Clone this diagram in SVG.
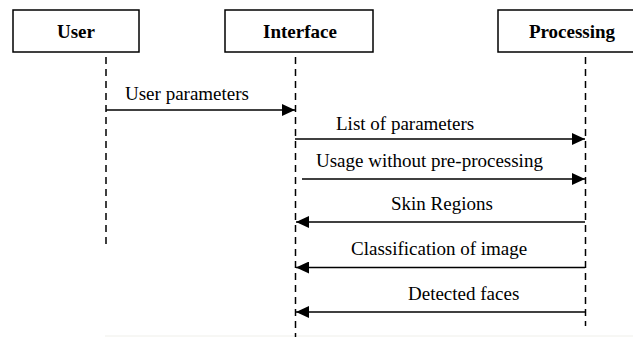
<svg xmlns="http://www.w3.org/2000/svg" width="633" height="337" viewBox="0 0 633 337">
<style>
.box{fill:#fff;stroke:#000;stroke-width:1.5}
.title{font-family:"Liberation Serif","Times New Roman",serif;font-weight:bold;font-size:19px;fill:#000;text-anchor:middle}
.lbl{font-family:"Liberation Serif","Times New Roman",serif;font-size:19px;fill:#000}
.life{stroke:#000;stroke-width:1.5;stroke-dasharray:7 5;fill:none}
.msg{stroke:#000;stroke-width:1.6;fill:none;marker-end:url(#ah)}
</style>
<defs>
<marker id="ah" markerWidth="13" markerHeight="12" refX="13" refY="6" orient="auto" markerUnits="userSpaceOnUse">
<path d="M0,0 L13,6 L0,12 Z" fill="#000"/>
</marker>
</defs>
<rect width="633" height="337" fill="#fff"/>
<line x1="105" y1="336" x2="633" y2="336" stroke="#efefea" stroke-width="1"/>
<g id="user">
<rect class="box" x="13" y="10" width="126" height="42"/>
<text class="title" x="76" y="38">User</text>
<line class="life" x1="106" y1="57" x2="106" y2="247"/>
</g>
<g id="interface">
<rect class="box" x="225" y="10" width="148" height="42"/>
<text class="title" x="300" y="38">Interface</text>
<line class="life" x1="295.5" y1="57" x2="295.5" y2="337"/>
</g>
<g id="processing">
<rect class="box" x="498" y="10" width="150" height="42"/>
<text class="title" x="572" y="38">Processing</text>
<line class="life" x1="585.5" y1="57" x2="585.5" y2="326"/>
</g>
<g id="connectors">
<path class="msg" d="M106,110 H295"/>
<text class="lbl" x="125" y="100">User parameters</text>
<path class="msg" d="M295,139 H585"/>
<text class="lbl" x="336" y="130">List of parameters</text>
<path class="msg" d="M302,179 H585"/>
<text class="lbl" x="316" y="167">Usage without pre-processing</text>
<path class="msg" d="M585,222 H296"/>
<text class="lbl" x="391" y="210">Skin Regions</text>
<path class="msg" d="M585,267.5 H296"/>
<text class="lbl" x="351" y="255">Classification of image</text>
<path class="msg" d="M585,312 H296"/>
<text class="lbl" x="408" y="300">Detected faces</text>
</g>
</svg>
